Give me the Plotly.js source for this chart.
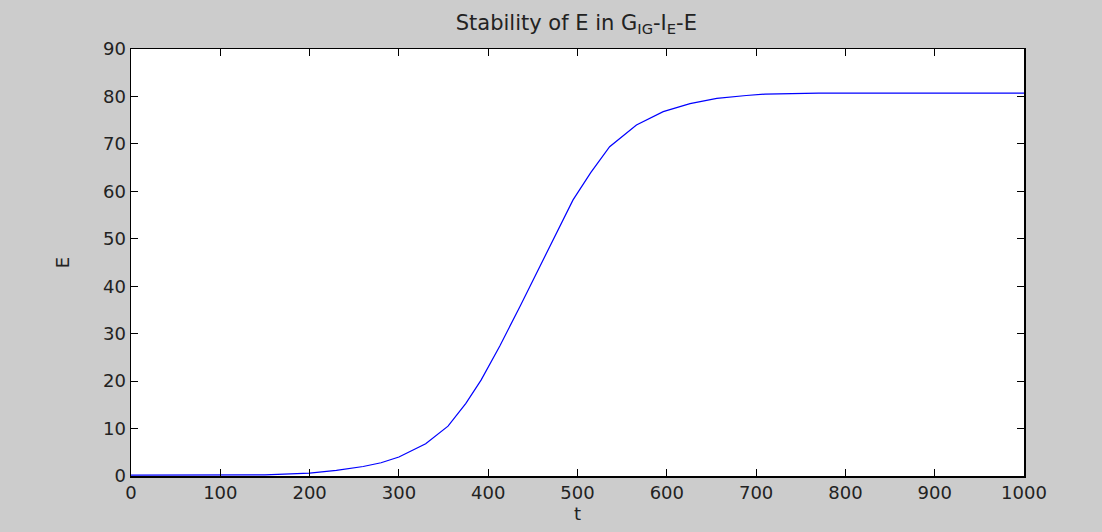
<!DOCTYPE html>
<html>
<head>
<meta charset="utf-8">
<script src="https://cdn.plot.ly/plotly-3.0.1.min.js"></script>
<style>html,body{margin:0;padding:0;background:#cccccc;}#chart{width:1102px;height:532px;}</style>
</head>
<body>
<div id="chart"></div>
<script>
const tValues = [0, 150, 200, 230, 260, 280, 300, 330, 355, 375, 392, 413, 436, 454, 475, 495, 515, 536, 566, 596, 626, 656, 689, 710, 770, 1000];
const eValues = [0.2, 0.25, 0.6, 1.2, 2.0, 2.8, 4.0, 6.8, 10.5, 15.3, 20.2, 27.4, 35.9, 42.8, 50.8, 58.2, 64.0, 69.4, 74.0, 76.8, 78.5, 79.6, 80.2, 80.5, 80.7, 80.7];
const xTicks = [0, 100, 200, 300, 400, 500, 600, 700, 800, 900, 1000];
const yTicks = [0, 10, 20, 30, 40, 50, 60, 70, 80, 90];

const FONT = 'DejaVu Sans, Verdana, sans-serif';
const trace = {
  x: tValues, y: eValues, type: 'scatter', mode: 'lines',
  line: {color: '#0000ff', width: 1.2}, hoverinfo: 'skip'
};
const axisCommon = {
  showgrid: false, zeroline: false, showline: true, linecolor: '#000000', linewidth: 1.5,
  mirror: 'ticks', ticks: 'inside', ticklen: 7, tickcolor: '#000000', tickwidth: 1,
  tickfont: {family: FONT, size: 18, color: '#222222'}
};
const layout = {
  width: 1102, height: 532,
  paper_bgcolor: '#cccccc', plot_bgcolor: '#ffffff',
  margin: {l: 131, r: 78, t: 49, b: 56},
  showlegend: false,
  title: {text: 'Stability of E in G<sub>IG</sub>-I<sub>E</sub>-E', x: 0.523, xanchor: 'center', y: 0.958, yanchor: 'middle',
    font: {family: FONT, size: 21, color: '#222222'}},
  xaxis: Object.assign({}, axisCommon, {range: [0, 1000], tickvals: xTicks, ticktext: xTicks.map(String),
    title: {text: 't', standoff: 2, font: {family: FONT, size: 18, color: '#222222'}}}),
  yaxis: Object.assign({}, axisCommon, {range: [0, 90], tickvals: yTicks, ticktext: yTicks.map(String),
    title: {text: 'E', standoff: 28, font: {family: FONT, size: 18, color: '#222222'}}})
};
Plotly.newPlot('chart', [trace], layout, {displayModeBar: false, staticPlot: true});
</script>
</body>
</html>
